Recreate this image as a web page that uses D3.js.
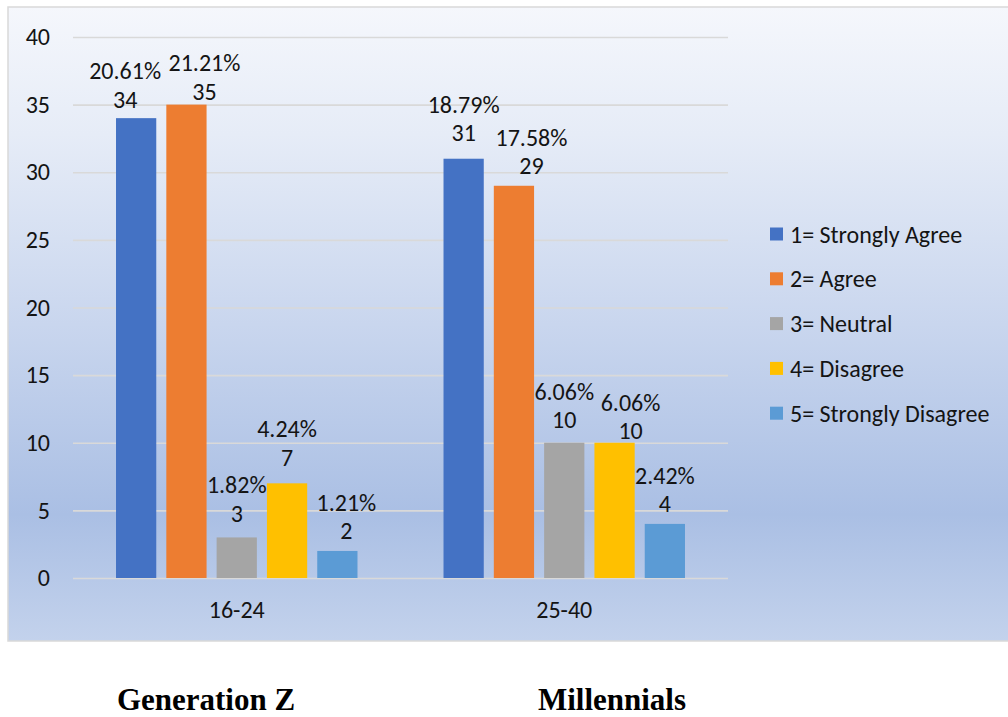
<!DOCTYPE html>
<html>
<head>
<meta charset="utf-8">
<script src="https://cdn.jsdelivr.net/npm/d3@7"></script>
<style>
  html, body { margin: 0; padding: 0; background: #ffffff; }
  svg { display: block; }
  text { font-family: Carlito, Lato, "Open Sans", sans-serif; }
</style>
</head>
<body>
<svg id="chart" width="1008" height="717"></svg>
<script>
// ---- data ----
const categories = ["16-24", "25-40"];
const seriesNames = ["1= Strongly Agree", "2= Agree", "3= Neutral", "4= Disagree", "5= Strongly Disagree"];
const seriesColors = ["#4472C4", "#ED7D31", "#A5A5A5", "#FFC000", "#5B9BD5"];
const countsGenZ = [34, 35, 3, 7, 2];
const countsMillennials = [31, 29, 10, 10, 4];
const percentGenZ = ["20.61%", "21.21%", "1.82%", "4.24%", "1.21%"];
const percentMillennials = ["18.79%", "17.58%", "6.06%", "6.06%", "2.42%"];
const yTickValues = [0, 5, 10, 15, 20, 25, 30, 35, 40];
const groupTitles = ["Generation Z", "Millennials"];

// label nudges (layout only, mimicking the original label placement)
const labelNudge = [
  [[-11, 1], [18, 6.5], [0, -4.4], [0, -6], [9, 0]],
  [[0, -6], [17.5, 0], [0, -3], [16, 8], [0, 0]]
];

const counts = [countsGenZ, countsMillennials];
const percents = [percentGenZ, percentMillennials];

const svg = d3.select("#chart");
const FONT = 24;
const TXT = "#141414";

// background gradient
const defs = svg.append("defs");
const grad = defs.append("linearGradient").attr("id", "bg").attr("x1", 0).attr("y1", 0).attr("x2", 0).attr("y2", 1);
[[0, "#f5f7fc"], [0.2, "#e6ecf7"], [0.5, "#c9d6ee"], [0.8, "#aabfe4"], [1, "#c3d2ec"]].forEach(([o, c]) =>
  grad.append("stop").attr("offset", o).attr("stop-color", c));

svg.append("rect")
  .attr("x", 8).attr("y", 7).attr("width", 1010).attr("height", 634)
  .attr("fill", "url(#bg)").attr("stroke", "#d9d9d9").attr("stroke-width", 1.5);

// scales
const plotLeft = 73, plotRight = 728, plotTop = 37, plotBottom = 578;
const x0 = d3.scaleBand().domain(categories).range([plotLeft, plotRight]).paddingInner(0).paddingOuter(0);
const x1 = d3.scaleBand().domain(seriesNames).range([0, x0.bandwidth()]).paddingInner(0.2).paddingOuter(0.855);
const y = d3.scaleLinear().domain([0, 40]).range([plotBottom, plotTop]);
const color = d3.scaleOrdinal().domain(seriesNames).range(seriesColors);

// y axis with gridlines
const yAxis = svg.append("g")
  .attr("transform", `translate(${plotLeft},0)`)
  .call(d3.axisLeft(y).tickValues(yTickValues).tickSize(-(plotRight - plotLeft)).tickPadding(23));
yAxis.select(".domain").remove();
yAxis.selectAll(".tick line").attr("stroke", "#d9d9d9").attr("stroke-width", 1.6);
yAxis.selectAll(".tick text")
  .attr("font-size", FONT).attr("fill", TXT).attr("font-family", "Carlito, Lato, sans-serif");

// x axis category labels
const xAxis = svg.append("g")
  .attr("transform", `translate(0,${plotBottom})`)
  .call(d3.axisBottom(x0).tickSize(0).tickPadding(0));
xAxis.select(".domain").remove();
xAxis.selectAll(".tick text")
  .attr("y", 32).attr("dy", "0.35em")
  .attr("font-size", FONT).attr("fill", TXT).attr("font-family", "Carlito, Lato, sans-serif");

// bars
const rows = categories.map((c, ci) => seriesNames.map((s, si) => ({
  cat: c, ci, series: s, si, value: counts[ci][si], pct: percents[ci][si], nudge: labelNudge[ci][si]
})));

const groups = svg.append("g").selectAll("g")
  .data(rows).join("g")
  .attr("transform", d => `translate(${x0(d[0].cat)},0)`);

groups.selectAll("rect")
  .data(d => d).join("rect")
  .attr("x", d => x1(d.series))
  .attr("y", d => y(d.value))
  .attr("width", x1.bandwidth())
  .attr("height", d => y(0) - y(d.value))
  .attr("fill", d => color(d.series));

// data labels
const lab = groups.selectAll("g.lab")
  .data(d => d).join("g").attr("class", "lab")
  .attr("transform", d => `translate(${x1(d.series) + x1.bandwidth() / 2 + d.nudge[0]},${y(d.value) - 20 + d.nudge[1]})`);
lab.append("text")
  .attr("text-anchor", "middle").attr("dominant-baseline", "central")
  .attr("font-size", FONT).attr("fill", TXT)
  .text(d => d.value);
lab.append("text")
  .attr("text-anchor", "middle").attr("dominant-baseline", "central")
  .attr("y", -28.5)
  .attr("font-size", FONT).attr("fill", TXT)
  .text(d => d.pct);

// legend
const legend = svg.append("g").selectAll("g")
  .data(seriesNames).join("g")
  .attr("transform", (d, i) => `translate(770,${234 + i * 44.8})`);
legend.append("rect")
  .attr("x", 0).attr("y", -6.5).attr("width", 13).attr("height", 13)
  .attr("fill", d => color(d));
legend.append("text")
  .attr("x", 20).attr("dominant-baseline", "central")
  .attr("font-size", FONT).attr("fill", TXT)
  .text(d => d);

// group titles below chart
const titleX = [206, 612];
svg.append("g").selectAll("text")
  .data(groupTitles).join("text")
  .attr("x", (d, i) => titleX[i]).attr("y", 710)
  .attr("text-anchor", "middle")
  .style("font-family", "'Liberation Serif', 'Times New Roman', serif")
  .attr("font-weight", "bold").attr("font-size", 31).attr("fill", "#000")
  .text(d => d);
</script>
</body>
</html>
